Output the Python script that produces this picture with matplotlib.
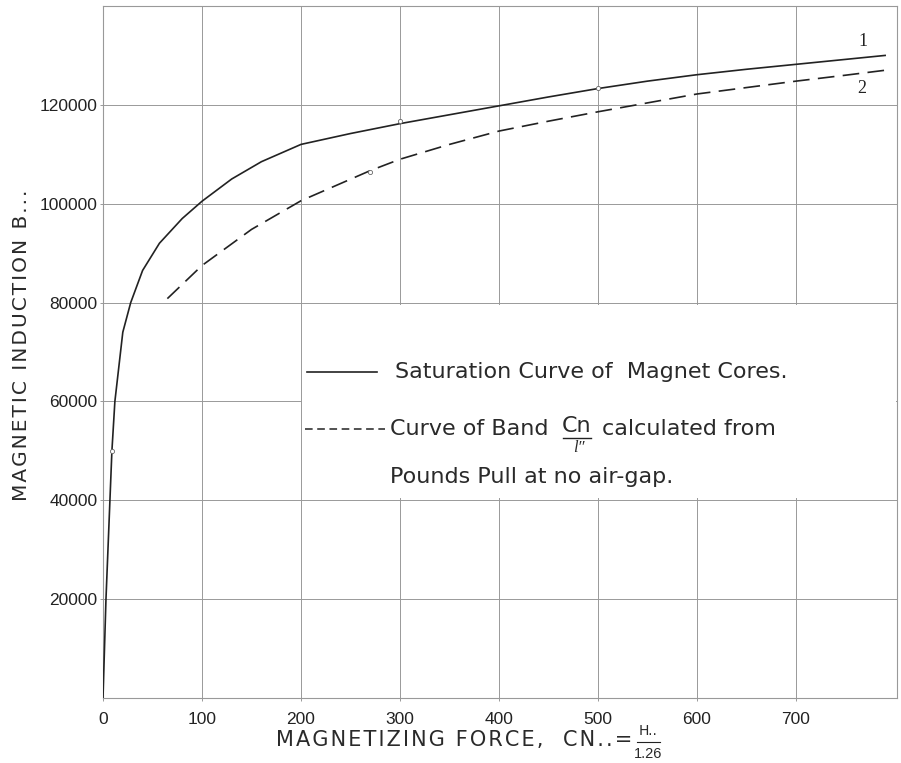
import matplotlib
matplotlib.use("Agg")
import matplotlib.pyplot as plt
from matplotlib.patches import Rectangle

# ---- data ----
sat_x = [0, 1.5, 3, 6, 9, 12, 20, 28, 40, 57, 80, 100, 130, 160, 200, 250, 300, 350, 400, 450, 500, 550, 600, 650, 700, 750, 790]
sat_y = [0, 10000, 20000, 35000, 50000, 60000, 74000, 80000, 86500, 92000, 97000, 100500, 105000, 108500, 112000, 114200, 116200, 118000, 119800, 121600, 123300, 124800, 126100, 127200, 128200, 129200, 130000]

band_x = [65, 100, 150, 200, 270, 300, 350, 400, 450, 500, 550, 600, 650, 700, 750, 790]
band_y = [80800, 87500, 94800, 100600, 106700, 109000, 112000, 114700, 116700, 118600, 120400, 122200, 123500, 124800, 126000, 127000]

sat_marker_x = [9, 300, 500]
sat_marker_y = [50000, 116800, 123400]
band_marker_x = [270]
band_marker_y = [106500]

x_ticks = [0, 100, 200, 300, 400, 500, 600, 700]
y_ticks = [20000, 40000, 60000, 80000, 100000, 120000]

x_title = "MAGNETIZING FORCE,  CN..="
y_title = "MAGNETIC INDUCTION B..."

W, H = 901, 763
fig = plt.figure(figsize=(W / 100, H / 100), dpi=100)
L, R, T, B = 103, 897, 6, 698
ax = fig.add_axes([L / W, 1 - B / H, (R - L) / W, (B - T) / H])
ax.set_xlim(0, 802)
ax.set_ylim(0, 140000)


def px2x(px):
    return (px - L) / (R - L) * 802


def py2y(py):
    return (B - py) / (B - T) * 140000


def spaced(s):
    return "\u200a".join(s)


grid_c = "#999999"
ink = "#222222"
for s in ax.spines.values():
    s.set_color(grid_c)
    s.set_linewidth(0.8)

ax.set_xticks(x_ticks)
ax.set_yticks(y_ticks)
ax.set_xticklabels([str(v) for v in x_ticks])
ax.set_yticklabels([str(v) for v in y_ticks])
tickfont = ["Liberation Sans", "DejaVu Sans"]
for lab in ax.get_xticklabels() + ax.get_yticklabels():
    lab.set_family(tickfont)
    lab.set_fontsize(12.5)
    lab.set_color(ink)
ax.tick_params(axis="both", length=2, width=0.7, color=grid_c)
ax.tick_params(axis="x", pad=8)
ax.tick_params(axis="y", pad=2)

# grid lines
for v in [100, 200, 300, 400, 500, 600, 700]:
    ax.axvline(v, color=grid_c, lw=0.7, zorder=1)
for v in y_ticks:
    ax.axhline(v, color=grid_c, lw=0.7, zorder=1)

# legend box (white area without grid)
ax.add_patch(Rectangle((201, 40400), 600, 39200, facecolor="white", edgecolor="none", zorder=2))

# curves
ax.plot(sat_x, sat_y, color=ink, lw=1.2, zorder=3)
ax.plot(band_x, band_y, color=ink, lw=1.2, dashes=(10, 5), zorder=3)
ax.plot(sat_marker_x, sat_marker_y, "o", ms=3, mfc="white", mec="#666666", mew=0.6, zorder=4)
ax.plot(band_marker_x, band_marker_y, "o", ms=3, mfc="white", mec="#666666", mew=0.6, zorder=4)

serif = ["Liberation Serif", "DejaVu Serif"]
ax.text(768, 132800, "1", family=serif, fontsize=13, color=ink, ha="center", va="center", zorder=5)
ax.text(766, 123300, "2", family=serif, fontsize=13, color=ink, ha="center", va="center", zorder=5)

lf = ["DejaVu Sans"]
lsize = 16
tc = "#2a2a2a"
# legend entries
ax.plot([px2x(307), px2x(377)], [py2y(372), py2y(372)], color=ink, lw=1.2, zorder=5)
ax.text(px2x(395), py2y(372), "Saturation Curve of  Magnet Cores.", family=lf, fontsize=lsize,
        color=tc, ha="left", va="center", zorder=5)
ax.plot([px2x(305), px2x(385)], [py2y(429), py2y(429)], color=ink, lw=1.1, dashes=(5, 3), zorder=5)
ax.text(px2x(390), py2y(429), "Curve of Band", family=lf, fontsize=lsize,
        color=tc, ha="left", va="center", zorder=5)
ax.text(px2x(577), py2y(426), "Cn", family=lf, fontsize=lsize, color=tc, ha="center", va="center", zorder=5)
ax.plot([px2x(563), px2x(591)], [py2y(438), py2y(438)], color=ink, lw=1.0, zorder=5)
ax.text(px2x(579), py2y(448), "l\u2033", family=serif, style="italic", fontsize=12, color=tc,
        ha="center", va="center", zorder=5)
ax.text(px2x(602), py2y(429), "calculated from", family=lf, fontsize=lsize,
        color=tc, ha="left", va="center", zorder=5)
ax.text(px2x(390), py2y(477), "Pounds Pull at no air-gap.", family=lf, fontsize=lsize,
        color=tc, ha="left", va="center", zorder=5)

# axis titles
fig.text(22 / W, 1 - 345 / H, spaced(y_title), family=lf, fontsize=14.5,
         color=tc, rotation=90, ha="center", va="center")
fig.text(276 / W, 1 - 740 / H, spaced(x_title), family=lf, fontsize=15,
         color=tc, ha="left", va="center")
fig.text(648 / W, 1 - 731 / H, "H..", family=lf, fontsize=10, color=tc, ha="center", va="center")
fig.lines.append(plt.Line2D([637 / W, 660 / W], [1 - 742 / H, 1 - 742 / H], transform=fig.transFigure,
                            color=ink, lw=0.8))
fig.text(648 / W, 1 - 754 / H, "1.26", family=tickfont, fontsize=10.5, color=tc, ha="center", va="center")

fig.savefig("out.png", dpi=100, facecolor="white")
